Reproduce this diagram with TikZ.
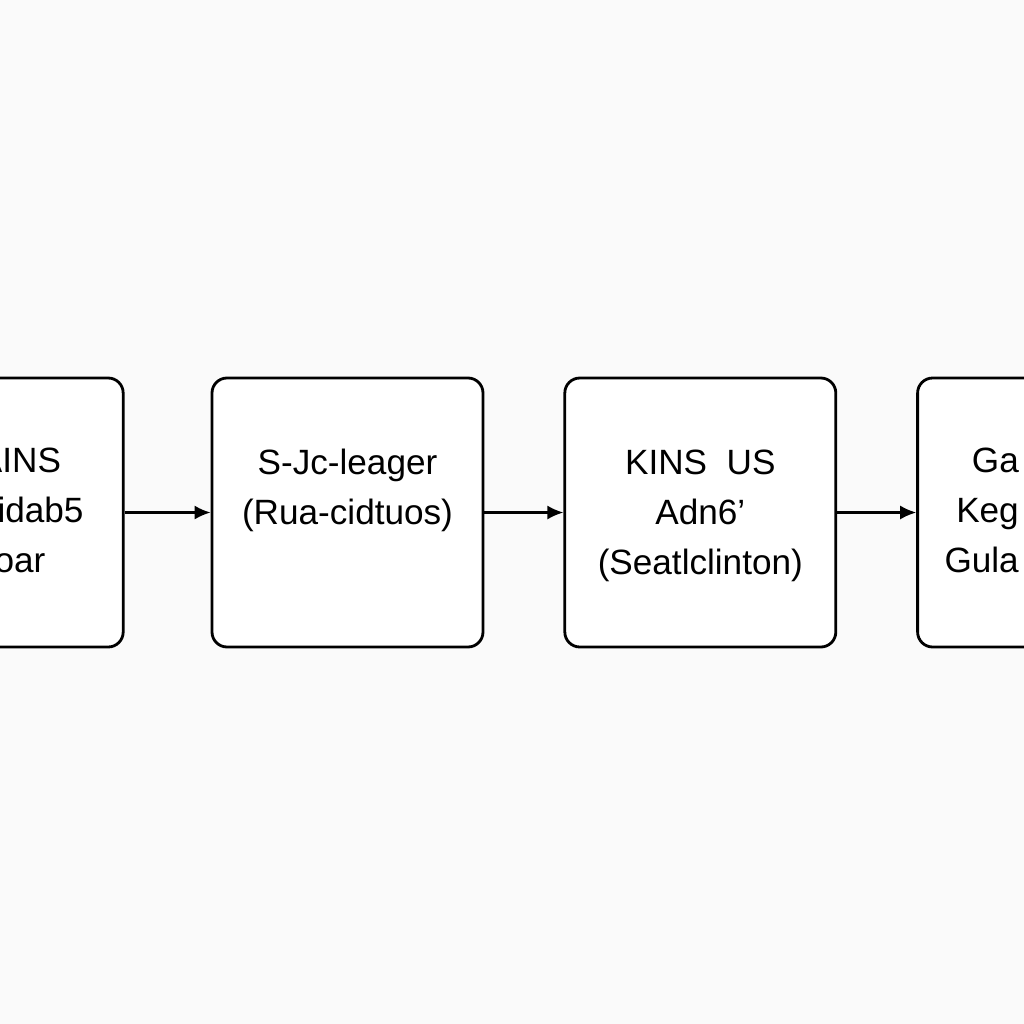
\documentclass[tikz,border=0pt]{standalone}
\usepackage{fontspec}
\setmainfont{Liberation Sans}
\usepackage{xcolor}
\usetikzlibrary{positioning,arrows.meta}
\definecolor{bgcol}{RGB}{250,250,250}

\begin{document}
\begin{tikzpicture}[
	block/.style={draw,line width=1.6pt,rounded corners=0.3cm,fill=white,minimum width=5.42cm,minimum height=5.38cm},
	txt/.style={align=center,font=\fontsize{20}{28.5}\selectfont},
	link/.style={line width=1.2pt,-{Latex[length=3.2mm,width=2.8mm]}}
]
	\useasboundingbox (0,0) rectangle (20.48,-20.48);
	\fill[bgcol] (0,0) rectangle (20.48,-20.48);
	\clip (0,0) rectangle (20.48,-20.48);
	
	\node[block] (scheduler) at (6.95,-10.25) {};
	\node[block,left=1.72cm of scheduler] (mains) {};
	\node[block,right=1.58cm of scheduler] (kins) {};
	\node[block,right=1.58cm of kins] (gateway) {};
	
	\node[txt] (mainstxt) at (0.4,-10.21) {AINS\\Acidab5\\oar};
	\node[txt] (schedulertxt) at ([yshift=0.44cm]scheduler.center) {S-Jc-leager\\(Rua-cidtuos)};
	\node[txt] (kinstxt) at ([yshift=-0.07cm]kins.center) {KINS\ \ US\\Adn6'\\(Seatlclinton)};
	\node[txt,anchor=east,align=right] (gatewaytxt) at (20.5,-10.21) {Ga\\Keg\\Gula};
	
	\draw[link] (mains) -- (scheduler);
	\draw[link] (scheduler) -- (kins);
	\draw[link] (kins) -- (gateway);
\end{tikzpicture}
\end{document}
